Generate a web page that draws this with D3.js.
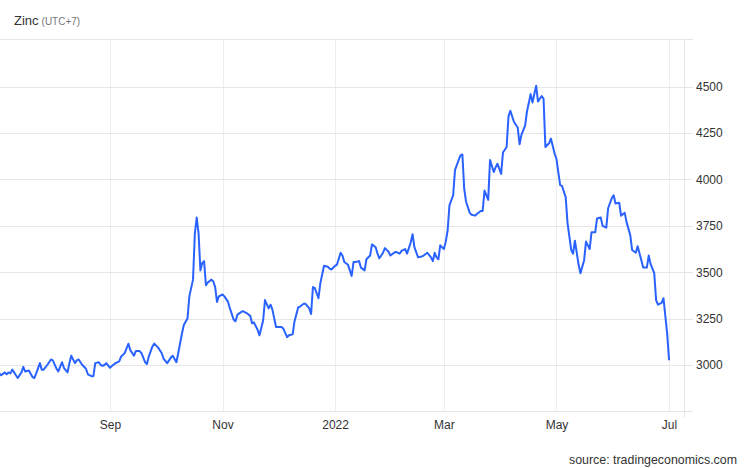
<!DOCTYPE html>
<html>
<head>
<meta charset="utf-8">
<script src="https://cdn.jsdelivr.net/npm/d3@7"></script>
<style>
  html, body { margin: 0; padding: 0; background: #fff; }
  svg { display: block; font-family: "Liberation Sans", Arial, Helvetica, sans-serif; }
</style>
</head>
<body>
<svg id="chart" width="746" height="468"></svg>
<script>
// ---- data ----
const baseDate = "2021-07-01";
const dayOffsets = [
  2,3,5,6,7,8,9,10,11,12,14,15,16,18,20,21,22,24,25,26,28,30,31,33,34,36,37,39,40,41,
  43,44,45,47,49,50,52,53,54,56,57,58,59,60,62,63,65,67,68,70,72,73,75,76,78,79,81,82,83,85,
  86,88,90,91,93,95,96,98,99,101,102,104,105,107,108,109,110,111,112,113,114,115,117,118,119,120,121,123,124,126,
  127,129,130,131,133,134,136,138,139,140,142,143,145,146,148,149,150,152,153,155,156,158,159,161,162,164,165,167,168,170,
  171,172,173,175,176,178,180,181,182,184,185,187,188,189,191,193,194,195,197,198,200,201,203,204,206,207,208,210,211,213,
  214,216,217,219,220,222,223,225,226,227,229,231,232,234,236,237,238,239,240,241,243,244,245,246,248,249,251,252,253,254,
  255,257,258,260,261,263,264,265,267,268,270,271,272,274,275,277,278,279,281,283,284,285,287,288,290,291,293,294,296,297,
  298,300,301,303,304,306,307,309,310,312,313,314,316,317,319,320,322,323,325,326,328,329,331,332,334,335,336,338,339,341,
  342,344,345,347,348,350,351,353,354,355,357,358,359,361,362,364,365
];
const prices = [
  2955,2945,2960,2950,2960,2955,2975,2960,2945,2930,2960,2990,2965,2970,2935,2930,2955,3010,2975,2975,3000,3030,3025,2980,2965,3015,2985,2960,3010,3050,
  3010,3025,3030,3000,2980,2950,2940,2940,3010,3015,3000,2995,3000,3010,2985,2995,3010,3020,3045,3065,3115,3080,3050,3075,3075,3065,3015,3005,3045,3100,
  3115,3095,3065,3035,3010,3040,3050,3015,3065,3170,3215,3250,3370,3460,3710,3795,3710,3510,3550,3560,3430,3445,3460,3450,3420,3340,3370,3380,3370,3340,
  3305,3245,3235,3270,3285,3290,3280,3265,3225,3230,3190,3160,3240,3350,3305,3325,3300,3205,3205,3205,3195,3150,3160,3165,3235,3310,3315,3330,3330,3305,
  3275,3420,3415,3360,3440,3535,3530,3520,3515,3535,3540,3605,3590,3555,3540,3480,3555,3555,3560,3525,3510,3570,3590,3650,3635,3600,3575,3605,3630,3610,
  3590,3605,3610,3600,3615,3625,3600,3660,3705,3635,3580,3585,3590,3605,3580,3560,3605,3580,3570,3645,3625,3665,3725,3860,3915,4050,4105,4130,4135,3950,
  3880,3820,3810,3805,3815,3830,3830,3940,3890,4105,4040,4065,4085,4030,4145,4175,4340,4370,4310,4280,4190,4240,4290,4365,4460,4415,4505,4420,4450,4435,
  4175,4195,4220,4140,4110,3970,3965,3905,3765,3620,3600,3670,3540,3495,3565,3665,3625,3715,3715,3790,3795,3750,3740,3845,3900,3915,3870,3875,3805,3820,
  3770,3700,3620,3605,3640,3565,3525,3525,3590,3545,3495,3350,3325,3335,3360,3170,3030
];
const xTickDates = ["2021-09-01","2021-11-01","2022-01-01","2022-03-01","2022-05-01","2022-07-01"];
const xTickLabels = ["Sep","Nov","2022","Mar","May","Jul"];
const yTicks = [3000,3250,3500,3750,4000,4250,4500];
const titleText = "Zinc";
const tzText = "(UTC+7)";
const sourceText = "source: tradingeconomics.com";

// ---- build ----
const parse = d3.timeParse("%Y-%m-%d");
const base = parse(baseDate);
const data = dayOffsets.map((d, i) => ({ date: d3.timeDay.offset(base, d), value: prices[i] }));

const plotLeft = 0, plotRight = 684, plotTop = 39, plotBottom = 411, tickEnd = 693;

const x = d3.scaleTime()
  .domain([parse(xTickDates[0]), parse(xTickDates[xTickDates.length - 1])])
  .range([110, 669]);
const y = d3.scaleLinear().domain([3000, 4500]).range([365, 86.7]);

const svg = d3.select("#chart");

// vertical gridlines
svg.append("g").selectAll("line").data(xTickDates).join("line")
  .attr("x1", d => Math.round(x(parse(d))) + 0.5).attr("x2", d => Math.round(x(parse(d))) + 0.5)
  .attr("y1", plotTop).attr("y2", plotBottom)
  .attr("stroke", "#eaeef2").attr("stroke-width", 1);

// horizontal gridlines
svg.append("g").selectAll("line").data(yTicks).join("line")
  .attr("x1", plotLeft).attr("x2", tickEnd)
  .attr("y1", d => Math.round(y(d)) + 0.5).attr("y2", d => Math.round(y(d)) + 0.5)
  .attr("stroke", "#e6e6e6").attr("stroke-width", 1);

// frame lines: top, bottom, right axis
svg.append("line").attr("x1", plotLeft).attr("x2", tickEnd).attr("y1", plotTop + 0.5).attr("y2", plotTop + 0.5)
  .attr("stroke", "#e6e6e6");
svg.append("line").attr("x1", plotLeft).attr("x2", tickEnd).attr("y1", plotBottom + 0.5).attr("y2", plotBottom + 0.5)
  .attr("stroke", "#e6e6e6");
svg.append("line").attr("x1", plotRight + 0.5).attr("x2", plotRight + 0.5).attr("y1", plotTop).attr("y2", plotBottom + 7)
  .attr("stroke", "#e6e6e6");

// y axis labels
const yAxis = d3.axisRight(y).tickValues(yTicks).tickSize(0).tickPadding(0).tickFormat(d3.format("d"));
const gy = svg.append("g").attr("transform", `translate(${696},0)`).call(yAxis);
gy.select(".domain").remove();
gy.selectAll("text").attr("font-size", 12).attr("fill", "#333").attr("font-family", "Liberation Sans, Arial, sans-serif");

// x axis labels
const xAxis = d3.axisBottom(x).tickValues(xTickDates.map(parse)).tickSize(0).tickPadding(0)
  .tickFormat((d, i) => xTickLabels[i]);
const gx = svg.append("g").attr("transform", `translate(0,${420})`).call(xAxis);
gx.select(".domain").remove();
gx.selectAll("text").attr("font-size", 12).attr("fill", "#333").attr("font-family", "Liberation Sans, Arial, sans-serif");

// line
const line = d3.line().x(d => x(d.date)).y(d => y(d.value)).curve(d3.curveLinear);
svg.append("path").datum(data)
  .attr("d", line)
  .attr("fill", "none")
  .attr("stroke", "#2962ff")
  .attr("stroke-width", 2)
  .attr("stroke-linejoin", "round")
  .attr("stroke-linecap", "round");

// title
const title = svg.append("text").attr("x", 14).attr("y", 24.5).attr("font-size", 13).attr("fill", "#333");
title.append("tspan").text(titleText);
title.append("tspan").attr("dx", 3).attr("font-size", 10).attr("fill", "#777").text(tzText);

// source
svg.append("text").attr("x", 737).attr("y", 464).attr("text-anchor", "end")
  .attr("font-size", 12.4).attr("fill", "#333").text(sourceText);
</script>
</body>
</html>
